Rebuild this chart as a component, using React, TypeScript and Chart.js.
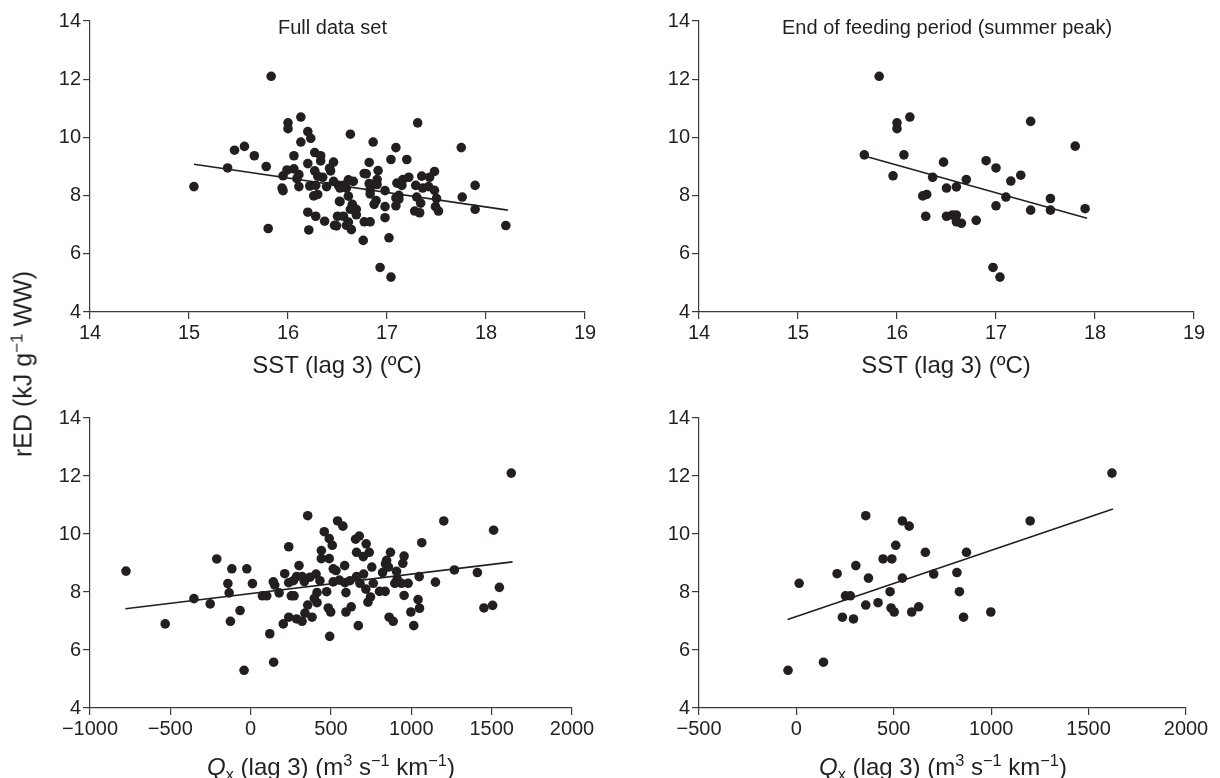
import React, { useEffect, useRef } from "react";
import { Chart, registerables } from "chart.js";

Chart.register(...registerables);

const FONT = '"Liberation Sans", Arial, Helvetica, sans-serif';
const INK = "#231f20";
const AXIS = "#3a3a3a";

// ---------- Full data set: SST (lag 3) vs rED ----------
const sstAllX = [
  15.83, 16.13, 16.0, 16.0, 16.2, 16.23, 16.13, 15.46, 15.56, 15.66, 16.06, 16.27, 16.33, 16.33, 16.2, 16.46,
  16.42, 16.43, 15.78, 15.39, 15.05, 15.95, 15.99, 16.06, 16.11, 16.09, 16.27, 16.3, 16.35, 15.94, 15.95, 16.11,
  16.22, 16.28, 16.39, 16.46, 16.51, 16.26, 16.3, 16.52, 16.2, 16.28, 16.37, 16.5, 16.47, 16.49, 16.21, 15.8,
  16.63, 17.31, 16.86, 17.09, 17.75, 17.04, 17.2, 16.82, 16.91, 16.77, 16.79, 17.48, 17.43, 17.35, 17.22, 17.16,
  17.1, 17.15, 16.61, 16.66, 16.56, 16.525, 16.82, 16.9, 16.9, 16.83, 16.83, 16.59, 16.61, 16.98, 17.29, 17.36,
  17.42, 17.48, 17.89, 17.12, 17.09, 17.12, 17.3, 17.5, 17.76, 16.89, 16.87, 16.525, 16.65, 16.98, 17.09, 17.34,
  17.49, 17.52, 17.89, 17.28, 17.33, 16.63, 16.69, 16.69, 16.56, 16.98, 16.61, 16.59, 16.64, 16.77, 16.83, 18.2,
  16.76, 17.02, 16.93, 17.04,
];
const sstAllY = [
  12.1, 10.7, 10.5, 10.3, 10.2, 9.97, 9.84, 9.56, 9.69, 9.37, 9.37, 9.48, 9.37, 9.19, 9.1, 9.15,
  8.94, 8.85, 9.0, 8.95, 8.31, 8.68, 8.88, 8.92, 8.72, 8.58, 8.85, 8.67, 8.63, 8.26, 8.17, 8.31,
  8.33, 8.35, 8.31, 8.49, 8.35, 7.99, 8.04, 7.8, 7.43, 7.29, 7.12, 7.29, 6.98, 6.96, 6.82, 6.87,
  10.11, 10.5, 9.84, 9.65, 9.65, 9.24, 9.24, 9.14, 8.86, 8.76, 8.75, 8.83, 8.63, 8.67, 8.63, 8.55,
  8.43, 8.35, 8.54, 8.49, 8.35, 8.26, 8.41, 8.55, 8.38, 8.2, 8.06, 8.26, 7.98, 8.17, 8.35, 8.26,
  8.31, 8.18, 8.35, 8.01, 7.92, 7.88, 7.95, 7.9, 7.95, 7.83, 7.7, 7.79, 7.7, 7.62, 7.65, 7.74,
  7.62, 7.47, 7.53, 7.47, 7.41, 7.53, 7.53, 7.34, 7.29, 7.24, 7.09, 6.98, 6.83, 7.1, 7.1, 6.97,
  6.46, 6.55, 5.53, 5.2,
];
const sstAllFitX = [15.05, 18.22];
const sstAllFitY = [9.08, 7.5];

// ---------- End of feeding period: SST (lag 3) vs rED ----------
const sstPeakX = [
  15.82, 16.13, 16.0, 16.0, 15.67, 16.07, 16.47, 15.96, 16.36, 16.5, 16.26, 16.3, 16.29, 16.5,
  16.56, 16.6, 16.6, 16.65, 16.6, 16.7, 16.8, 16.9, 17.0, 17.0, 17.1, 17.15, 17.25, 17.35, 17.35,
  17.55, 17.55, 17.8, 17.9, 16.97, 17.04,
];
const sstPeakY = [
  12.1, 10.7, 10.5, 10.3, 9.4, 9.4, 9.15, 8.68, 8.63, 8.26, 7.99, 8.04, 7.29, 7.29,
  7.33, 7.33, 7.1, 7.05, 8.3, 8.55, 7.15, 9.2, 8.95, 7.65, 7.95, 8.5, 8.7, 10.55, 7.5,
  7.9, 7.5, 9.7, 7.55, 5.53, 5.2,
];
const sstPeakFitX = [15.68, 17.92];
const sstPeakFitY = [9.35, 7.22];

// ---------- Full data set: Qx (lag 3) vs rED ----------
const qxAllX = [
  -776, -532, -353, -252, -211, -117, -24, -142, -134, 11, -66, -126, -41, 143, 119, 203,
  237, 286, 320, 338, 355, 382, 396, 413, 413, 492, 483, 498, 593, 355, 541, 574,
  458, 489, 508, 237, 440, 440, 489, 301, 212, 585, 514, 531, 141, 150, 73, 100,
  177, 253, 270, 237, 266, 286, 320, 334, 369, 407, 431, 473, 514, 552, 587, 593,
  1622, 1202, 1512, 1065, 653, 676, 719, 659, 701, 738, 870, 955, 754, 846, 839, 858,
  947, 703, 821, 908, 1268, 1411, 1548, 1049, 1150, 659, 618, 680, 763, 897, 939, 980,
  912, 717, 802, 837, 955, 746, 730, 1042, 1051, 997, 626, 862, 887, 1015, 670, 1452, 1506,
];
const qxAllY = [
  8.72, 6.9, 7.77, 7.59, 9.14, 8.8, 8.8, 8.29, 7.97, 8.29, 7.36, 6.99, 5.3, 5.58, 6.56, 6.9,
  7.13, 7.07, 6.99, 7.27, 7.55, 7.13, 7.78, 7.63, 7.98, 6.47, 7.45, 7.31, 7.31, 10.63, 10.45, 10.27,
  10.08, 9.84, 9.61, 9.56, 9.43, 9.15, 9.15, 8.91, 8.63, 8.91, 8.8, 8.74, 8.35, 8.24, 7.87, 7.87,
  7.97, 7.87, 7.87, 8.32, 8.39, 8.53, 8.53, 8.36, 8.51, 8.62, 8.39, 8.01, 8.35, 8.41, 8.32, 7.98,
  12.1, 10.45, 10.13, 9.7, 9.82, 9.93, 9.66, 9.37, 9.22, 9.37, 9.37, 9.24, 8.86, 9.09, 8.97, 8.86,
  8.99, 8.62, 8.67, 8.71, 8.76, 8.67, 8.16, 8.53, 8.34, 8.53, 8.39, 8.3, 8.3, 8.3, 8.3, 8.3,
  8.44, 8.1, 8.02, 8.02, 7.88, 7.83, 7.65, 7.74, 7.44, 7.31, 7.49, 7.13, 6.99, 6.84, 6.84, 7.45, 7.54,
];
const qxAllFitX = [-780, 1630];
const qxAllFitY = [7.42, 9.04];

// ---------- End of feeding period: Qx (lag 3) vs rED ----------
const qxPeakX = [
  -43, 139, 14, 209, 305, 356, 544, 579, 510, 445, 490, 662, 370, 544, 705, 481, 252,
  277, 356, 419, 486, 502, 592, 628, 236, 293, 1620, 1200, 873, 824, 837, 858, 998,
];
const qxPeakY = [
  5.3, 5.58, 8.3, 8.63, 8.91, 10.63, 10.45, 10.27, 9.61, 9.14, 9.14, 9.37, 8.48, 8.48, 8.62, 8.01, 7.87,
  7.87, 7.55, 7.63, 7.45, 7.31, 7.31, 7.49, 7.13, 7.07, 12.1, 10.45, 9.37, 8.67, 8.01, 7.13, 7.31,
];
const qxPeakFitX = [-45, 1625];
const qxPeakFitY = [7.05, 10.86];

const yTicks = { min: 4, max: 14, step: 2 };
const sstTicks = { min: 14, max: 19, step: 1 };
const qxAllTicks = { min: -1000, max: 2000, step: 500 };
const qxPeakTicks = { min: -500, max: 2000, step: 500 };

type Spec = {
  left: number;
  top: number;
  w: number;
  h: number;
  areaLeft: number;
  areaRight: number;
  areaTop: number;
  areaBottom: number;
  xs: number[];
  ys: number[];
  fx: number[];
  fy: number[];
  xt: { min: number; max: number; step: number };
};

const pairs = (xs: number[], ys: number[]) => xs.map((x, i) => ({ x, y: ys[i] }));
const fmt = (v: number) => (v < 0 ? "\u2212" + Math.abs(v) : String(v));

function Panel({ s }: { s: Spec }) {
  const ref = useRef<HTMLCanvasElement>(null);
  useEffect(() => {
    if (!ref.current) return;
    const tickFont = { family: FONT, size: 20 };
    const chart = new Chart(ref.current, {
      type: "scatter",
      data: {
        datasets: [
          {
            type: "line",
            data: pairs(s.fx, s.fy),
            borderColor: INK,
            borderWidth: 1.6,
            pointRadius: 0,
            fill: false,
            tension: 0,
          } as any,
          {
            type: "scatter",
            data: pairs(s.xs, s.ys),
            pointRadius: 4.8,
            pointHoverRadius: 4.8,
            backgroundColor: INK,
            borderWidth: 0,
          },
        ],
      },
      options: {
        animation: false,
        responsive: false,
        maintainAspectRatio: false,
        events: [],
        layout: {
          padding: { top: s.areaTop, right: s.w - s.areaRight, bottom: 0, left: 0 },
        },
        plugins: { legend: { display: false }, tooltip: { enabled: false }, title: { display: false } },
        scales: {
          x: {
            type: "linear",
            min: s.xt.min,
            max: s.xt.max,
            ticks: {
              stepSize: s.xt.step,
              font: tickFont,
              color: INK,
              padding: 2,
              maxRotation: 0,
              autoSkip: false,
              callback: (v: any) => fmt(Number(v)),
            },
            grid: { drawOnChartArea: false, drawTicks: true, tickLength: 7, color: AXIS, lineWidth: 1.2 },
            border: { display: true, color: AXIS, width: 1.2 },
            afterFit: (sc: any) => {
              sc.height = s.h - s.areaBottom;
              sc.paddingLeft = 0;
              sc.paddingRight = 0;
            },
          },
          y: {
            type: "linear",
            min: yTicks.min,
            max: yTicks.max,
            ticks: {
              stepSize: yTicks.step,
              font: tickFont,
              color: INK,
              padding: 2,
              callback: (v: any) => fmt(Number(v)),
            },
            grid: { drawOnChartArea: false, drawTicks: true, tickLength: 7, color: AXIS, lineWidth: 1.2 },
            border: { display: true, color: AXIS, width: 1.2 },
            afterFit: (sc: any) => {
              sc.width = s.areaLeft;
              sc.paddingTop = 0;
              sc.paddingBottom = 0;
            },
          },
        },
      } as any,
    });
    return () => chart.destroy();
  }, []);
  return (
    <canvas
      ref={ref}
      width={s.w}
      height={s.h}
      style={{ position: "absolute", left: s.left, top: s.top, width: s.w, height: s.h }}
    />
  );
}

const panels: Spec[] = [
  { left: 0, top: 0, w: 610, h: 390, areaLeft: 90, areaRight: 585, areaTop: 21, areaBottom: 312, xs: sstAllX, ys: sstAllY, fx: sstAllFitX, fy: sstAllFitY, xt: sstTicks },
  { left: 610, top: 0, w: 610, h: 390, areaLeft: 89, areaRight: 584, areaTop: 21, areaBottom: 312, xs: sstPeakX, ys: sstPeakY, fx: sstPeakFitX, fy: sstPeakFitY, xt: sstTicks },
  { left: 0, top: 390, w: 610, h: 388, areaLeft: 90, areaRight: 572, areaTop: 28, areaBottom: 318, xs: qxAllX, ys: qxAllY, fx: qxAllFitX, fy: qxAllFitY, xt: qxAllTicks },
  { left: 610, top: 390, w: 610, h: 388, areaLeft: 89, areaRight: 576, areaTop: 28, areaBottom: 318, xs: qxPeakX, ys: qxPeakY, fx: qxPeakFitX, fy: qxPeakFitY, xt: qxPeakTicks },
];

const supStyle: React.CSSProperties = { fontSize: "0.68em", verticalAlign: "0.55em", lineHeight: 0 };
const subStyle: React.CSSProperties = { fontSize: "0.68em", verticalAlign: "-0.3em", lineHeight: 0 };

function QxTitle() {
  return (
    <>
      <i>Q</i>
      <span style={subStyle}>x</span> (lag 3) (m<span style={supStyle}>3</span> s<span style={supStyle}>{"\u22121"}</span> km
      <span style={supStyle}>{"\u22121"}</span>)
    </>
  );
}

const textBase: React.CSSProperties = {
  position: "absolute",
  fontFamily: FONT,
  color: INK,
  whiteSpace: "nowrap",
  lineHeight: 1,
};

export default function App() {
  return (
    <div
      style={{ position: "fixed", left: 0, top: 0, width: 1220, height: 778, background: "#fff", overflow: "hidden" }}
    >
      {panels.map((p, i) => (
        <Panel key={i} s={p} />
      ))}
      <div style={{ ...textBase, left: 278, top: 17, fontSize: 20 }}>Full data set</div>
      <div style={{ ...textBase, left: 782, top: 17, fontSize: 20 }}>End of feeding period (summer peak)</div>
      <div style={{ ...textBase, left: 337, top: 353, fontSize: 24, transform: "translateX(-50%)" }}>
        SST (lag 3) (ºC)
      </div>
      <div style={{ ...textBase, left: 946, top: 353, fontSize: 24, transform: "translateX(-50%)" }}>
        SST (lag 3) (ºC)
      </div>
      <div style={{ ...textBase, left: 331, top: 755, fontSize: 24, transform: "translateX(-50%)" }}>
        <QxTitle />
      </div>
      <div style={{ ...textBase, left: 943, top: 755, fontSize: 24, transform: "translateX(-50%)" }}>
        <QxTitle />
      </div>
      <div
        style={{
          ...textBase,
          left: 23,
          top: 364,
          fontSize: 25,
          transform: "translate(-50%, -50%) rotate(-90deg)",
        }}
      >
        rED (kJ g<span style={supStyle}>{"\u22121"}</span> WW)
      </div>
    </div>
  );
}
